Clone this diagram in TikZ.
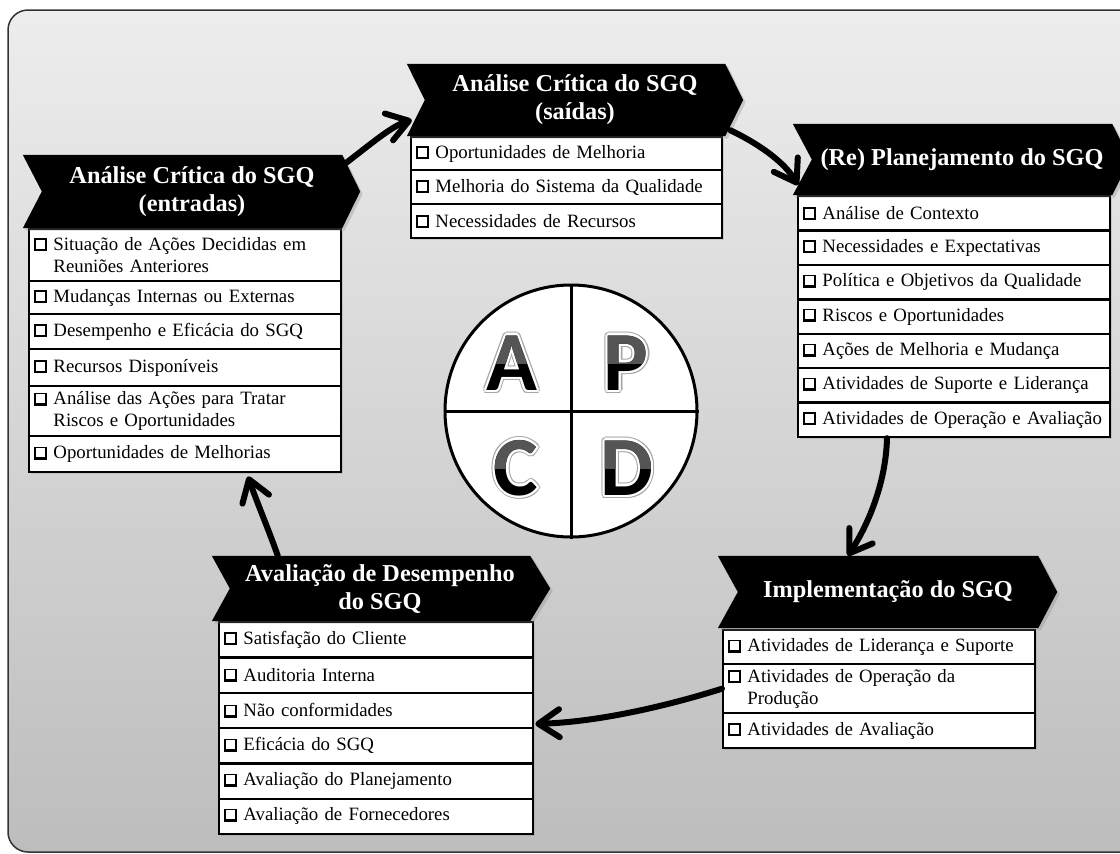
\documentclass[tikz,border=0pt]{standalone}
\usepackage{fontspec}
\setmainfont{Liberation Serif}
\newfontfamily\carlito{Carlito}
\usetikzlibrary{arrows.meta,calc,shadows}
\newcommand\cbx{\rlap{\rule[-1pt]{13pt}{13pt}}\hspace*{1.3pt}\rlap{\color{white}\rule[1.7pt]{9pt}{9pt}}\hspace*{11.7pt}}
\newcommand\itm[1]{\cbx\ #1}
\newcommand\itmb[2]{\cbx\ #1\\\phantom{\cbx\ }#2}
\definecolor{bgtop}{HTML}{EDEDED}
\definecolor{bgbot}{HTML}{BDBDBD}
\definecolor{gloss}{HTML}{555555}
\tikzset{
  rowbox/.style={draw=black, line width=2.4pt, fill=white, anchor=north west,
    inner xsep=5pt, inner ysep=0pt, align=left,
    font=\fontsize{18.8}{22}\selectfont, minimum height=#1,
    drop shadow={shadow xshift=1.5pt,shadow yshift=-1.5pt,opacity=0.25}},
  bannerbox/.style={minimum width=300pt, inner sep=0pt, draw=none},
  banner/.style={fill=black, drop shadow={shadow xshift=2.5pt,shadow yshift=-2.5pt,opacity=0.3}},
  ttl/.style={text=white, font=\bfseries\fontsize{24.3}{28}\selectfont, align=center, inner sep=0pt},
  arr/.style={line width=6pt, line cap=round, -{Straight Barb[length=21pt,width=28pt,round]}},
  lfont/.style={font=\carlito\bfseries\fontsize{84}{84}\selectfont, inner sep=0pt},
}
% banner: name, x, y, height, notch, tip, text
\newcommand\bannr[7]{%
  \node[bannerbox, minimum height=#4pt] (#1) at (#2,#3) {};
  \coordinate (#1tip) at ($(#1.east)+(#6,0)$);
  \coordinate (#1tl) at ($(#1.north west)+(-#5,0)$);
  \coordinate (#1bl) at ($(#1.south west)+(-#5,0)$);
  \path[banner] (#1tl) -- (#1.north east) -- (#1tip) -- (#1.south east) -- (#1bl) -- (#1.west) -- cycle;
  \node[ttl] (#1t) at (#1) {#7};
}
% PDCA letter: name, x, y, letter
\newcommand\pdcaltr[4]{%
  \foreach \a in {0,30,...,330}{\node[lfont,text=black!35] (#1o\a) at ($(#2,#3)+(\a:3.4)$) {#4};}
  \foreach \a in {0,30,...,330}{\node[lfont,text=white] (#1w\a) at ($(#2,#3)+(\a:2.3)$) {#4};}
  \node[lfont] (#1) at (#2,#3) {#4};
  \begin{scope}
    \clip (#2-60,#3-60) rectangle (#2+60,#3);
    \node[lfont,text=gloss] (#1g) at (#2,#3) {#4};
  \end{scope}
}
\begin{document}
\begin{tikzpicture}[x=1pt,y=-1pt]
\useasboundingbox (0,0) rectangle (1120,854);
\draw[rounded corners=20pt, top color=bgtop, bottom color=bgbot, draw=black!80, line width=1.5pt] (8,10) rectangle (1150,852);

% PDCA circle
\node[circle, minimum size=252pt, inner sep=0pt, draw=black, line width=3pt, fill=white] (cyc) at (571,411) {};
\draw[line width=3pt] (cyc.north) -- (cyc.south);
\draw[line width=3pt] (cyc.west) -- (cyc.east);
\pdcaltr{lA}{512}{363}{A}
\pdcaltr{lP}{626}{363}{P}
\pdcaltr{lC}{516}{468}{C}
\pdcaltr{lD}{627}{468}{D}

% Block 1: Analise Critica (entradas)
\node[rowbox=52pt, text width=302pt] (b1r1) at (28,228) {\itmb{Situação de Ações Decididas em}{Reuniões Anteriores}};
\node[rowbox=33pt, text width=302pt] (b1r2) at (28,280) {\itm{Mudanças Internas ou Externas}};
\node[rowbox=35pt, text width=302pt] (b1r3) at (28,313) {\itm{Desempenho e Eficácia do SGQ}};
\node[rowbox=37pt, text width=302pt] (b1r4) at (28,348) {\itm{Recursos Disponíveis}};
\node[rowbox=50pt, text width=302pt] (b1r5) at (28,385) {\itmb{Análise das Ações para Tratar}{Riscos e Oportunidades}};
\node[rowbox=36pt, text width=302pt] (b1r6) at (28,435) {\itm{Oportunidades de Melhorias}};
\bannr{h1}{192}{191.5}{73}{19}{18}{Análise Crítica do SGQ\\(entradas)}

% Block 2: Analise Critica (saidas)
\node[rowbox=33pt, text width=301pt] (b2r1) at (410,136) {\itm{Oportunidades de Melhoria}};
\node[rowbox=34pt, text width=301pt] (b2r2) at (410,169) {\itm{Melhoria do Sistema da Qualidade}};
\node[rowbox=34pt, text width=301pt] (b2r3) at (410,203) {\itm{Necessidades de Recursos}};
\bannr{h2}{575}{100}{72}{18}{18}{Análise Crítica do SGQ\\(saídas)}

% Block 3: (Re) Planejamento
\node[rowbox=34.4pt, text width=302pt] (b3r1) at (797,195) {\itm{Análise de Contexto}};
\node[rowbox=34.4pt, text width=302pt] (b3r2) at (797,229.4) {\itm{Necessidades e Expectativas}};
\node[rowbox=34.4pt, text width=302pt] (b3r3) at (797,263.8) {\itm{Política e Objetivos da Qualidade}};
\node[rowbox=34.4pt, text width=302pt] (b3r4) at (797,298.2) {\itm{Riscos e Oportunidades}};
\node[rowbox=34.4pt, text width=302pt] (b3r5) at (797,332.6) {\itm{Ações de Melhoria e Mudança}};
\node[rowbox=34.4pt, text width=302pt] (b3r6) at (797,367) {\itm{Atividades de Suporte e Liderança}};
\node[rowbox=34.4pt, text width=302pt] (b3r7) at (797,401.4) {\itm{Atividades de Operação e Avaliação}};
\bannr{h3}{962}{159.5}{71}{19}{18}{(Re) Planejamento do SGQ}

% Block 4: Implementacao
\node[rowbox=34pt, text width=302pt] (b4r1) at (722,629) {\itm{Atividades de Liderança e Suporte}};
\node[rowbox=49pt, text width=302pt] (b4r2) at (722,663) {\itmb{Atividades de Operação da}{Produção}};
\node[rowbox=35pt, text width=302pt] (b4r3) at (722,712) {\itm{Atividades de Avaliação}};
\bannr{h4}{888}{592}{72}{20}{19}{Implementação do SGQ}

% Block 5: Avaliacao de Desempenho
\node[rowbox=35.3pt, text width=304pt] (b5r1) at (218,621) {\itm{Satisfação do Cliente}};
\node[rowbox=35.3pt, text width=304pt] (b5r2) at (218,656.3) {\itm{Auditoria Interna}};
\node[rowbox=35.3pt, text width=304pt] (b5r3) at (218,691.6) {\itm{Não conformidades}};
\node[rowbox=35.3pt, text width=304pt] (b5r4) at (218,726.9) {\itm{Eficácia do SGQ}};
\node[rowbox=35.3pt, text width=304pt] (b5r5) at (218,762.2) {\itm{Avaliação do Planejamento}};
\node[rowbox=35.3pt, text width=304pt] (b5r6) at (218,797.5) {\itm{Avaliação de Fornecedores}};
\bannr{h5}{380}{588.5}{65}{18}{20}{Avaliação de Desempenho\\do SGQ}

% cycle arrows
\draw[arr] ($(h1.north east)!0.22!(h1tip)$) .. controls (372,143) and (392,126) .. ($(h2.west)!0.55!(h2bl)+(-3,0)$);
\draw[arr] ($(h2.south east)+(5,-6)$) .. controls (755,142) and (783,160) .. ($(h3.west)!0.72!(h3bl)$);
\draw[arr] ($(b3r7.south west)+(90,0)$) .. controls (886,480) and (870,522) .. ($(h4tl)+(130,0)$);
\draw[arr] (b4r2.west) .. controls (670,705) and (600,722) .. ($(b5r4.north east)+(1,-3)$);
\draw[arr] ($(h5.north west)+(48,0)$) .. controls (268,528) and (256,500) .. ($(b1r6.south west)+(220,3)$);
\end{tikzpicture}
\end{document}
